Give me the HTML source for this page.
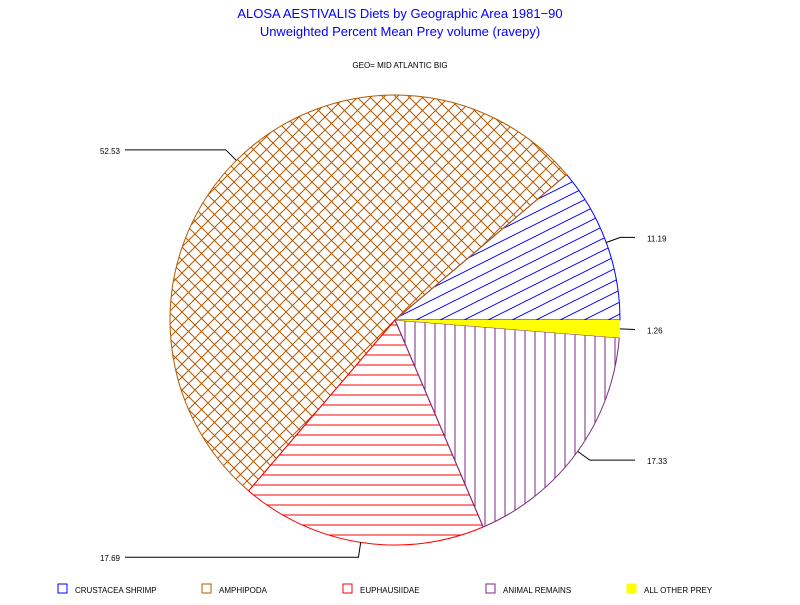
<!DOCTYPE html>
<html><head><meta charset="utf-8"><style>
body{margin:0;background:#fff;font-family:"Liberation Sans",sans-serif}
</style></head><body>
<svg id="c" width="800" height="600" xmlns="http://www.w3.org/2000/svg">
<defs>
<pattern id="p0" patternUnits="userSpaceOnUse" width="24" height="12"><path d="M-24,24 L24,0 M0,12 L24,0 M0,24 L48,0 M-24,12 L24,-12" stroke="#0000ff" stroke-width="1"/></pattern>
<pattern id="p1" patternUnits="userSpaceOnUse" width="13" height="13"><path d="M0,0 L13,13 M13,0 L0,13" stroke="#b35900" stroke-width="1"/></pattern>
<pattern id="p2" patternUnits="userSpaceOnUse" width="10" height="10"><path d="M0,5 L10,5" stroke="#ff0000" stroke-width="1"/></pattern>
<pattern id="p3" patternUnits="userSpaceOnUse" width="10" height="10"><path d="M5,0 L5,10" stroke="#7a2a80" stroke-width="1"/></pattern>
<pattern id="p4" patternUnits="userSpaceOnUse" width="10" height="10"><rect width="10" height="10" fill="#ffff00"/></pattern>
</defs>
<text x="400" y="18" text-anchor="middle" fill="#0000ff" font-size="13">ALOSA AESTIVALIS Diets by Geographic Area 1981−90</text>
<text x="400" y="36" text-anchor="middle" fill="#0000ff" font-size="13">Unweighted Percent Mean Prey volume (ravepy)</text>
<text x="400" y="68" text-anchor="middle" fill="#000" font-size="8">GEO= MID ATLANTIC BIG</text>
<g id="slices"></g>
<g id="labels" font-size="8" fill="#000"></g>
<g id="legend" font-size="8"></g>
</svg>
<script>
const categories=["CRUSTACEA SHRIMP","AMPHIPODA","EUPHAUSIIDAE","ANIMAL REMAINS","ALL OTHER PREY"];
const values=[11.19,52.53,17.69,17.33,1.26];
const valueLabels=["11.19","52.53","17.69","17.33","1.26"];
const colors=["#0000ff","#b35900","#ff0000","#7a2a80","#ffff00"];
const NS="http://www.w3.org/2000/svg";
const cx=395,cy=320,r=225;
const total=values.reduce((a,b)=>a+b,0);
const sg=document.getElementById('slices'),lg=document.getElementById('labels'),leg=document.getElementById('legend');
function pt(a,rr){return [cx+rr*Math.cos(a),cy-rr*Math.sin(a)];}
let start=0;
values.forEach((v,i)=>{
  const sweep=v/total*2*Math.PI,end=start+sweep;
  const p1=pt(start,r),p2=pt(end,r);
  const big=sweep>Math.PI?1:0;
  const path=document.createElementNS(NS,'path');
  path.setAttribute('d',`M${cx},${cy} L${p1[0]},${p1[1]} A${r},${r} 0 ${big} 0 ${p2[0]},${p2[1]} Z`);
  path.setAttribute('fill',`url(#p${i})`);
  path.setAttribute('stroke',i==4?'none':colors[i]);
  
  
  sg.appendChild(path);
  const mid=(start+end)/2;
  const e=pt(mid,r),o=pt(mid,r+15);
  const left=Math.cos(mid)<0;
  const ex=left?125:635;
  const ln=document.createElementNS(NS,'polyline');
  ln.setAttribute('points',`${e[0]},${e[1]} ${o[0]},${o[1]} ${ex},${o[1]}`);
  ln.setAttribute('fill','none');ln.setAttribute('stroke','#000');
  
  
  lg.appendChild(ln);
  const t=document.createElementNS(NS,'text');
  t.setAttribute('x',left?ex-5:ex+12);t.setAttribute('y',o[1]+4);
  t.setAttribute('text-anchor',left?'end':'start');
  t.textContent=valueLabels[i];
  
  
  lg.appendChild(t);
  start=end;
});
const lx=[58,202,343,486,627];
categories.forEach((c,i)=>{
  const g=document.createElementNS(NS,'g');
  
  
  const rc=document.createElementNS(NS,'rect');
  rc.setAttribute('x',lx[i]);rc.setAttribute('y',584);rc.setAttribute('width',9);rc.setAttribute('height',9);
  rc.setAttribute('fill',i==4?colors[i]:'#fff');rc.setAttribute('stroke',colors[i]);
  g.appendChild(rc);
  const t=document.createElementNS(NS,'text');
  t.setAttribute('x',lx[i]+17);t.setAttribute('y',593);t.textContent=c;
  g.appendChild(t);
  leg.appendChild(g);
});
</script>
</body></html>
